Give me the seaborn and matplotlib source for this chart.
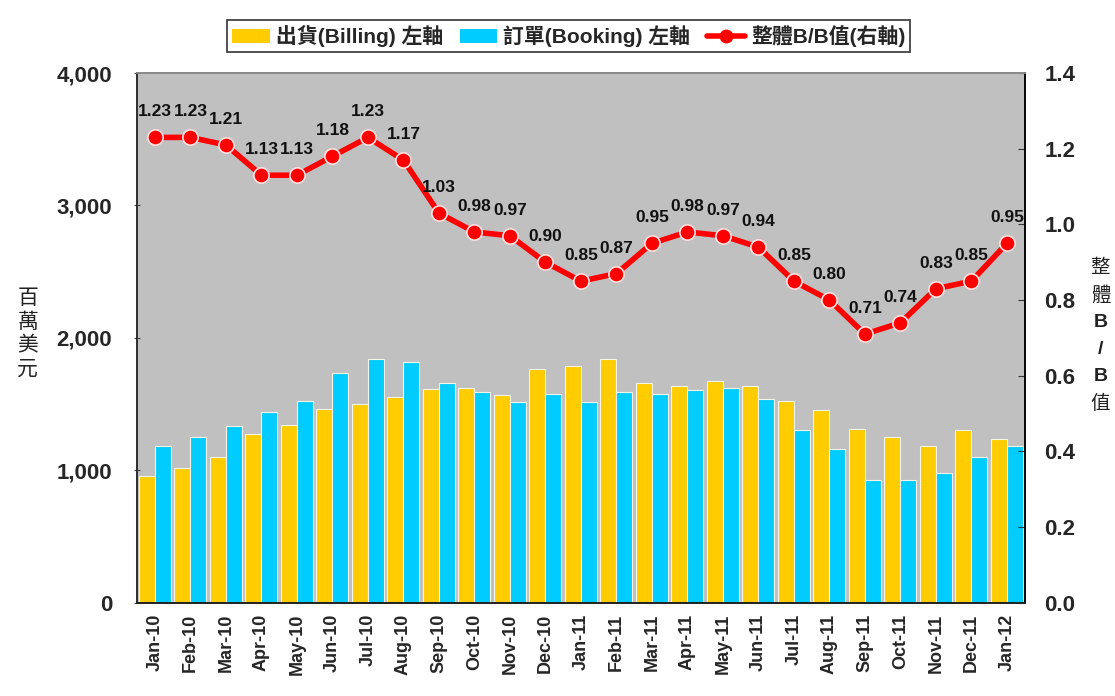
import numpy as np
import pandas as pd
import seaborn as sns
import matplotlib.pyplot as plt
from matplotlib.patches import Patch
from matplotlib.lines import Line2D

sns.set_style('white')
plt.rcParams['font.family'] = ['Liberation Sans', 'Noto Sans CJK TC', 'DejaVu Sans']

# 月份
months = ['Jan-10', 'Feb-10', 'Mar-10', 'Apr-10', 'May-10', 'Jun-10', 'Jul-10', 'Aug-10',
          'Sep-10', 'Oct-10', 'Nov-10', 'Dec-10', 'Jan-11', 'Feb-11', 'Mar-11', 'Apr-11',
          'May-11', 'Jun-11', 'Jul-11', 'Aug-11', 'Sep-11', 'Oct-11', 'Nov-11', 'Dec-11', 'Jan-12']
# 出貨 / 訂單 (百萬美元)
billing = [958, 1016, 1102, 1273, 1343, 1464, 1502, 1552, 1615, 1620, 1570, 1764, 1789,
           1839, 1658, 1640, 1673, 1640, 1525, 1454, 1311, 1255, 1180, 1303, 1240]
booking = [1180, 1248, 1333, 1442, 1525, 1733, 1839, 1821, 1658, 1595, 1517, 1577, 1517,
           1595, 1577, 1605, 1620, 1542, 1301, 1160, 926, 926, 979, 1100, 1180]
# 整體 B/B 值
bb_ratio = [1.23, 1.23, 1.21, 1.13, 1.13, 1.18, 1.23, 1.17, 1.03, 0.98, 0.97, 0.90, 0.85,
            0.87, 0.95, 0.98, 0.97, 0.94, 0.85, 0.80, 0.71, 0.74, 0.83, 0.85, 0.95]

lab_bill = '出貨(Billing) 左軸'
lab_book = '訂單(Booking) 左軸'
lab_bb = '整體B/B值(右軸)'

df = pd.DataFrame({'month': months * 2,
                   'value': billing + booking,
                   'series': [lab_bill] * len(months) + [lab_book] * len(months)})

fig = plt.figure(figsize=(11.15, 6.96), dpi=100)
ax = fig.add_axes([0.123, 0.134, 0.796, 0.761])
ax.set_facecolor('#C0C0C0')

sns.barplot(data=df, x='month', y='value', hue='series', order=months,
            palette=['#FFCC00', '#00CCFF'], saturation=1, width=0.9,
            edgecolor='#F4F4E8', linewidth=0.8, ax=ax, legend=False)
ax.set_xlim(-0.5, len(months) - 0.5)
ax.set_ylim(0, 4000)
ax.set_yticks([0, 1000, 2000, 3000, 4000])
ax.set_yticklabels(['0', '1,000', '2,000', '3,000', '4,000'], fontsize=16, fontweight='bold')
ax.set_xticks(range(len(months)))
ax.set_xticklabels(months, rotation=90, fontsize=13, fontweight='bold')
ax.set_xticks(np.arange(-0.5, len(months), 1), minor=True)
ax.tick_params(axis='x', which='major', length=0, pad=8)
ax.tick_params(axis='x', which='minor', length=5, direction='in', color='black')
ax.tick_params(axis='y', length=4, direction='inout', color='#444444', pad=16)
ax.set_xlabel('')
ax.set_ylabel('')

ax2 = ax.twinx()
x_pos = np.arange(len(months))
sns.lineplot(x=x_pos, y=bb_ratio, color='#FF0000', linewidth=4, marker='o', markersize=11,
             markerfacecolor='#FF0000', markeredgecolor='#FFE0E0', markeredgewidth=1.2,
             ax=ax2, legend=False)
ax2.set_ylim(0, 1.4)
ax2.set_yticks(np.arange(0, 1.41, 0.2))
ax2.set_yticklabels([f'{v:.1f}' for v in np.arange(0, 1.41, 0.2)], fontsize=16, fontweight='bold')
ax2.tick_params(axis='y', length=5, direction='in', color='#333333', pad=14)
ax2.set_xlim(-0.5, len(months) - 0.5)

for xi, v in zip(x_pos, bb_ratio):
    ax2.annotate(f'{v:.2f}', (xi, v), xytext=(0, 13), textcoords='offset points',
                 ha='center', va='bottom', fontsize=12.5, fontweight='bold', color='#111111')

for a in (ax, ax2):
    for side, sp in a.spines.items():
        sp.set_visible(True)
        sp.set_linewidth(1.2)
ax.spines['left'].set_color('#555555')
ax.spines['bottom'].set_color('black')
ax2.spines['right'].set_color('black')
ax2.spines['top'].set_color('#999999')

# 縱軸標題
fig.text(0.025, 0.52, '百\n萬\n美\n元', ha='center', va='center', fontsize=15,
         color='#222222', linespacing=1.3)
right_chars = [('整', 'normal'), ('體', 'normal'), ('B', 'bold'), ('/', 'bold'), ('B', 'bold'), ('值', 'normal')]
for k, (ch, w) in enumerate(right_chars):
    fig.text(0.987, 0.615 - k * 0.039, ch, ha='center', va='center', fontsize=14,
             fontweight=w, color='#222222')

handles = [Patch(facecolor='#FFCC00', edgecolor='none'),
           Patch(facecolor='#00CCFF', edgecolor='none'),
           Line2D([0], [0], color='#FF0000', linewidth=4, marker='o', markersize=9,
                  markerfacecolor='#FF0000', markeredgecolor='#FF0000')]
leg = fig.legend(handles, [lab_bill, lab_book, lab_bb], loc='center', ncol=3,
                 bbox_to_anchor=(0.51, 0.948), frameon=True, fancybox=False,
                 prop={'size': 15, 'weight': 'bold'}, handlelength=1.8, handletextpad=0.3,
                 columnspacing=0.8, borderpad=0.25, edgecolor='black')
leg.get_frame().set_linewidth(1.2)

plt.savefig('out.png', dpi=100)
